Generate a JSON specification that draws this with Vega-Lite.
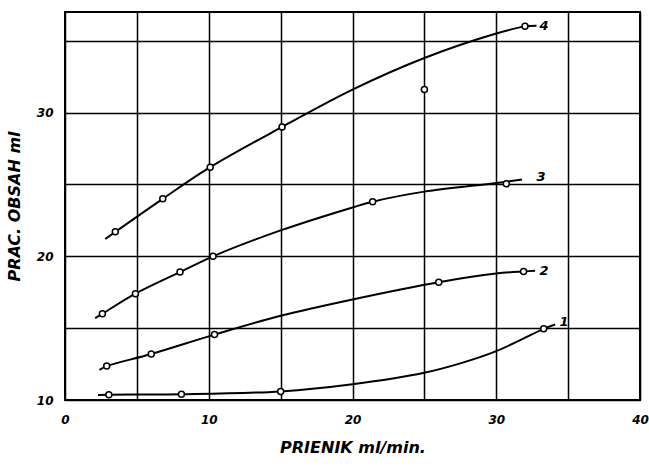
{
  "$schema": "https://vega.github.io/schema/vega-lite/v6.json",
  "autosize": "none",
  "width": 575,
  "height": 388,
  "padding": {"left": 65, "top": 12, "right": 9, "bottom": 69},
  "background": "white",
  "config": {
    "view": {"stroke": "black", "strokeWidth": 2},
    "axis": {
      "grid": true, "gridColor": "black", "gridOpacity": 1, "gridWidth": 1.5,
      "domain": false, "ticks": false,
      "labelFont": "DejaVu Sans", "labelFontStyle": "italic", "labelFontWeight": "bold",
      "labelFontSize": 12, "labelColor": "black",
      "titleFont": "DejaVu Sans", "titleFontStyle": "italic", "titleFontWeight": "bold",
      "titleFontSize": 16, "titleColor": "black"
    }
  },
  "datasets": {
    "curves": [
      {"c": "1", "x": 2.3, "y": 10.35}, {"c": "1", "x": 3.05, "y": 10.37}, {"c": "1", "x": 8.1, "y": 10.4}, {"c": "1", "x": 15.0, "y": 10.6}, {"c": "1", "x": 20.0, "y": 11.1}, {"c": "1", "x": 25.0, "y": 11.9}, {"c": "1", "x": 27.5, "y": 12.55}, {"c": "1", "x": 30.0, "y": 13.4}, {"c": "1", "x": 33.3, "y": 14.95}, {"c": "1", "x": 34.1, "y": 15.25},
      {"c": "2", "x": 2.4, "y": 12.1}, {"c": "2", "x": 2.9, "y": 12.36}, {"c": "2", "x": 6.0, "y": 13.2}, {"c": "2", "x": 10.4, "y": 14.55}, {"c": "2", "x": 15.0, "y": 15.86}, {"c": "2", "x": 20.0, "y": 17.0}, {"c": "2", "x": 26.0, "y": 18.2}, {"c": "2", "x": 30.0, "y": 18.8}, {"c": "2", "x": 31.9, "y": 18.95}, {"c": "2", "x": 32.7, "y": 19.0},
      {"c": "3", "x": 2.1, "y": 15.7}, {"c": "3", "x": 2.6, "y": 16.0}, {"c": "3", "x": 4.9, "y": 17.4}, {"c": "3", "x": 8.0, "y": 18.9}, {"c": "3", "x": 10.3, "y": 20.0}, {"c": "3", "x": 15.0, "y": 21.8}, {"c": "3", "x": 20.0, "y": 23.4}, {"c": "3", "x": 21.4, "y": 23.8}, {"c": "3", "x": 25.0, "y": 24.5}, {"c": "3", "x": 30.0, "y": 25.1}, {"c": "3", "x": 31.8, "y": 25.35},
      {"c": "4", "x": 2.8, "y": 21.2}, {"c": "4", "x": 3.5, "y": 21.7}, {"c": "4", "x": 6.8, "y": 24.0}, {"c": "4", "x": 10.1, "y": 26.2}, {"c": "4", "x": 15.1, "y": 29.0}, {"c": "4", "x": 20.0, "y": 31.6}, {"c": "4", "x": 25.0, "y": 33.8}, {"c": "4", "x": 30.0, "y": 35.5}, {"c": "4", "x": 32.0, "y": 36.0}, {"c": "4", "x": 32.8, "y": 36.05}
    ],
    "points": [
      {"c": "1", "x": 3.05, "y": 10.37}, {"c": "1", "x": 8.1, "y": 10.4}, {"c": "1", "x": 15.0, "y": 10.6}, {"c": "1", "x": 33.3, "y": 14.95},
      {"c": "2", "x": 2.9, "y": 12.36}, {"c": "2", "x": 6.0, "y": 13.2}, {"c": "2", "x": 10.4, "y": 14.55}, {"c": "2", "x": 26.0, "y": 18.2}, {"c": "2", "x": 31.9, "y": 18.95},
      {"c": "3", "x": 2.6, "y": 16.0}, {"c": "3", "x": 4.9, "y": 17.4}, {"c": "3", "x": 8.0, "y": 18.9}, {"c": "3", "x": 10.3, "y": 20.0}, {"c": "3", "x": 21.4, "y": 23.8}, {"c": "3", "x": 30.7, "y": 25.05},
      {"c": "4", "x": 3.5, "y": 21.7}, {"c": "4", "x": 6.8, "y": 24.0}, {"c": "4", "x": 10.1, "y": 26.2}, {"c": "4", "x": 15.1, "y": 29.0}, {"c": "4", "x": 25.0, "y": 31.6}, {"c": "4", "x": 32.0, "y": 36.0}
    ],
    "labels": [
      {"c": "1", "x": 34.4, "y": 15.45},
      {"c": "2", "x": 33.0, "y": 18.95},
      {"c": "3", "x": 32.8, "y": 25.5},
      {"c": "4", "x": 33.0, "y": 36.05}
    ]
  },
  "layer": [
    {
      "data": {"name": "curves"},
      "mark": {"type": "line", "interpolate": "catmull-rom", "color": "black", "strokeWidth": 2},
      "encoding": {
        "x": {"field": "x", "type": "quantitative", "scale": {"domain": [0, 40], "nice": false},
          "axis": {"values": [0, 5, 10, 15, 20, 25, 30, 35, 40], "labelExpr": "datum.value % 10 == 0 ? datum.label : ''", "title": "PRIENIK  ml/min.", "labelPadding": 14, "titlePadding": 14, "labelFlush": false}},
        "y": {"field": "y", "type": "quantitative", "scale": {"domain": [10, 37], "nice": false, "zero": false},
          "axis": {"values": [10, 15, 20, 25, 30, 35], "labelExpr": "datum.value % 10 == 0 ? datum.label : ''", "title": "PRAC. OBSAH  ml", "labelPadding": 12, "titlePadding": 14}},
        "detail": {"field": "c", "type": "nominal"},
        "order": {"field": "x", "type": "quantitative"}
      }
    },
    {
      "data": {"name": "points"},
      "mark": {"type": "point", "shape": "circle", "filled": true, "fill": "white", "stroke": "black", "strokeWidth": 1.5, "size": 36, "opacity": 1},
      "encoding": {
        "x": {"field": "x", "type": "quantitative"},
        "y": {"field": "y", "type": "quantitative"}
      }
    },
    {
      "data": {"name": "labels"},
      "mark": {"type": "text", "font": "DejaVu Sans", "fontStyle": "italic", "fontWeight": "bold", "fontSize": 13, "align": "left", "baseline": "middle", "color": "black"},
      "encoding": {
        "x": {"field": "x", "type": "quantitative"},
        "y": {"field": "y", "type": "quantitative"},
        "text": {"field": "c", "type": "nominal"}
      }
    }
  ]
}
